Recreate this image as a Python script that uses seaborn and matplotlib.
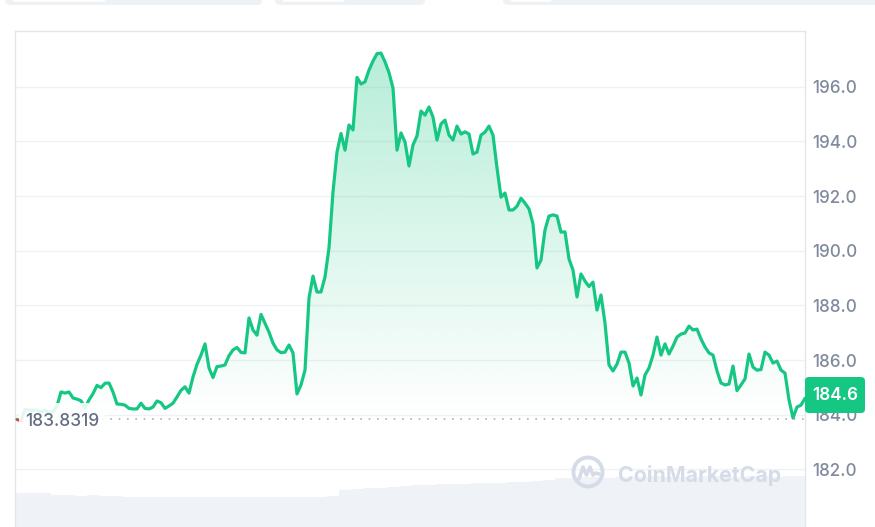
import numpy as np
import pandas as pd
import matplotlib
matplotlib.use("Agg")
import matplotlib.pyplot as plt
import seaborn as sns
from matplotlib.patches import Rectangle, FancyBboxPatch, Circle
from matplotlib.lines import Line2D
from matplotlib.transforms import IdentityTransform

# price samples across the day
price = [
    183.83, 183.77, 184.19, 184.17, 184.17, 184.17, 184.10, 184.17, 184.08, 184.10,
    184.32, 184.83, 184.79, 184.83, 184.61, 184.57, 184.51, 184.24, 184.54, 184.77,
    185.07, 184.99, 185.15, 185.16, 184.83, 184.39, 184.38, 184.35, 184.23, 184.21,
    184.21, 184.42, 184.23, 184.21, 184.28, 184.50, 184.44, 184.23, 184.32, 184.42,
    184.65, 184.89, 185.02, 184.79, 185.38, 185.84, 186.18, 186.59, 185.71, 185.36,
    185.76, 185.78, 185.82, 186.16, 186.37, 186.46, 186.28, 186.26, 187.54, 187.10,
    186.91, 187.67, 187.34, 187.02, 186.62, 186.37, 186.27, 186.29, 186.55, 186.26,
    184.76, 185.09, 185.63, 188.27, 189.07, 188.49, 188.49, 189.04, 190.10, 192.15,
    193.61, 194.29, 193.68, 194.60, 194.42, 196.34, 196.10, 196.18, 196.61, 196.94,
    197.21, 197.23, 196.91, 196.52, 195.95, 193.68, 194.31, 193.98, 193.10, 193.87,
    194.20, 195.11, 194.96, 195.26, 194.89, 194.05, 194.64, 194.78, 194.23, 194.05,
    194.56, 194.27, 194.35, 194.27, 193.54, 193.61, 194.23, 194.34, 194.56, 194.23,
    193.03, 191.96, 192.11, 191.49, 191.49, 191.63, 191.92, 191.74, 191.53, 190.98,
    189.37, 189.66, 190.76, 191.27, 191.31, 191.27, 190.68, 190.69, 189.70, 189.29,
    188.31, 189.15, 188.89, 188.69, 188.85, 187.83, 188.38, 187.35, 185.82, 185.60,
    185.85, 186.29, 186.29, 185.89, 185.05, 185.34, 184.72, 185.45, 185.71, 186.18,
    186.84, 186.18, 186.59, 186.22, 186.51, 186.84, 186.95, 186.99, 187.24, 187.10,
    187.13, 186.77, 186.48, 186.26, 186.18, 185.60, 185.16, 185.09, 185.12, 185.78,
    184.88, 185.09, 185.31, 186.22, 185.74, 185.63, 185.65, 186.29, 186.18, 185.89,
    185.96, 185.63, 185.52, 184.54, 183.88, 184.28, 184.35, 184.60,
]

# volume bars (billions), one bar per 3 price samples
volume = [
    1.37, 1.37, 1.37, 1.29, 1.29, 1.25, 1.29, 1.25, 1.25, 1.21,
    1.21, 1.21, 1.19, 1.21, 1.21, 1.21, 1.19, 1.21, 1.21, 1.21,
    1.21, 1.19, 1.21, 1.21, 1.21, 1.21, 1.23, 1.49, 1.53, 1.57,
    1.57, 1.61, 1.65, 1.69, 1.69, 1.73, 1.73, 1.73, 1.77, 1.77,
    1.77, 1.81, 1.81, 1.85, 1.90, 1.98, 1.98, 2.02, 2.02, 1.98,
    2.02, 2.02, 2.02, 2.06, 2.02, 2.02, 2.02, 2.06, 2.06, 2.02,
    2.02, 2.06, 2.06, 2.02, 2.06, 2.06,
]

open_price = 183.8319
last_price = 184.6
y_ticks = [182, 184, 186, 188, 190, 192, 194, 196]

green = "#16c784"
red = "#ea3943"

sns.set_theme(style="white")
plt.rcParams["font.family"] = ["Inter", "DejaVu Sans"]

fig = plt.figure(figsize=(8.75, 5.27), dpi=100)
ax = fig.add_axes([15 / 875, 0, 790 / 875, 496 / 527])
ax_vol = ax.twinx()
ax.set_zorder(ax_vol.get_zorder() + 1)
ax.patch.set_visible(False)

xmin, xmax = -0.5, len(price) - 1
ymin, ymax = 179.89, 198.04

# volume
vol_x = np.arange(len(volume)) * 3 + 1
ax_vol.bar(vol_x, volume, width=2.92, color="#eff2f6", linewidth=0)
ax_vol.set_ylim(0, 20)
ax_vol.set_yticks([])
for s in ax_vol.spines.values():
    s.set_visible(False)

df = pd.DataFrame({"t": np.arange(len(price)), "price": price})

# gradient fill under the line
fill = ax.fill_between(df["t"], df["price"], open_price, color="none", linewidth=0)
fill_path = fill.get_paths()[0]
yy = np.linspace(open_price, ymax, 256)
alpha = np.clip((yy - open_price) / (197.2 - open_price), 0, None) * 0.31
rgba = np.zeros((256, 1, 4))
rgba[..., 0] = 22 / 255
rgba[..., 1] = 199 / 255
rgba[..., 2] = 132 / 255
rgba[..., 3] = alpha[:, None]
img = ax.imshow(rgba, extent=[xmin, xmax, open_price, ymax], origin="lower",
                aspect="auto", zorder=1, interpolation="bilinear")
img.set_clip_path(fill_path, transform=ax.transData)

# line: green above the open price, red below
sns.lineplot(data=df, x="t", y="price", ax=ax, color=green, linewidth=2.3, zorder=3)
above = Rectangle((xmin - 5, open_price), xmax - xmin + 10, 50, transform=ax.transData)
ax.lines[-1].set_clip_path(above)
sns.lineplot(data=df, x="t", y="price", ax=ax, color=red, linewidth=2.3, zorder=3)
below = Rectangle((xmin - 5, open_price - 50), xmax - xmin + 10, 50, transform=ax.transData)
ax.lines[-1].set_clip_path(below)

ax.axhline(open_price, xmin=0.11, xmax=1, color="#a7b0bf", linewidth=1.2,
           linestyle=(0, (1, 4)), zorder=2)

ax.set_xlim(xmin, xmax)
ax.set_ylim(ymin, ymax)
ax.set_xticks([])
ax.set_xlabel("")
ax.set_ylabel("")
ax.yaxis.tick_right()
ax.set_yticks(y_ticks)
ax.set_yticklabels([f"{v:.1f}" for v in y_ticks])
ax.tick_params(axis="y", length=0, pad=5, labelsize=12.3, labelcolor="#808a9d")
for lbl in ax.get_yticklabels():
    lbl.set_fontweight("medium")
ax.grid(axis="y", color="#eff2f5", linewidth=1)
ax.grid(axis="x", visible=False)
for side in ["left", "top", "right"]:
    ax.spines[side].set_color("#e3e6ea")
    ax.spines[side].set_linewidth(1)
ax.spines["bottom"].set_visible(False)

px = IdentityTransform()

# open price label
fig.add_artist(Rectangle((19, 527 - 432), 86, 29, transform=px, facecolor="white",
                         edgecolor="none", alpha=0.88, zorder=5))
fig.text(25 / 875, 1 - 421.5 / 527, f"{open_price:.4f}", fontsize=12.5,
         weight="medium", color="#646e82", va="center", ha="left", zorder=6)

# last price tag
fig.add_artist(FancyBboxPatch((805, 527 - 413), 60, 36, transform=px,
                              boxstyle="round,pad=0,rounding_size=4",
                              facecolor=green, edgecolor="none", zorder=5))
fig.text(835 / 875, 1 - 396 / 527, f"{last_price:.1f}", fontsize=12.3,
         color="white", weight="semibold", va="center", ha="center", zorder=6)

# watermark
wm = "#d5dce8"
fig.add_artist(Circle((588, 527 - 472), 14.5, transform=px, facecolor="none",
                      edgecolor=wm, linewidth=2.8, zorder=4))
mx = np.array([-9, -5, -1.5, 2, 5, 8, 11])
my = np.array([-7, 5, -3, 5, -3, -1, -2])
fig.add_artist(Line2D(588 + mx, 527 - 472 + my, transform=px, color=wm,
                      linewidth=2.6, solid_capstyle="round", zorder=4))
fig.text(618 / 875, 1 - 475 / 527, "CoinMarketCap", fontsize=15.3, weight="bold",
         color=wm, va="center", ha="left", zorder=4)

# tabs at the top edge
for x0, w, iw in [(5, 257, 94), (275, 150, 63), (503, 380, 42)]:
    fig.add_artist(FancyBboxPatch((x0, 522), w, 20, transform=px,
                                  boxstyle="round,pad=0,rounding_size=5",
                                  facecolor="#eff2f5", edgecolor="none", zorder=1))
    fig.add_artist(FancyBboxPatch((x0 + 7, 525.3), iw, 10, transform=px,
                                  boxstyle="round,pad=0,rounding_size=3",
                                  facecolor="white", edgecolor="none", zorder=2))

fig.savefig("out.png", dpi=100)
